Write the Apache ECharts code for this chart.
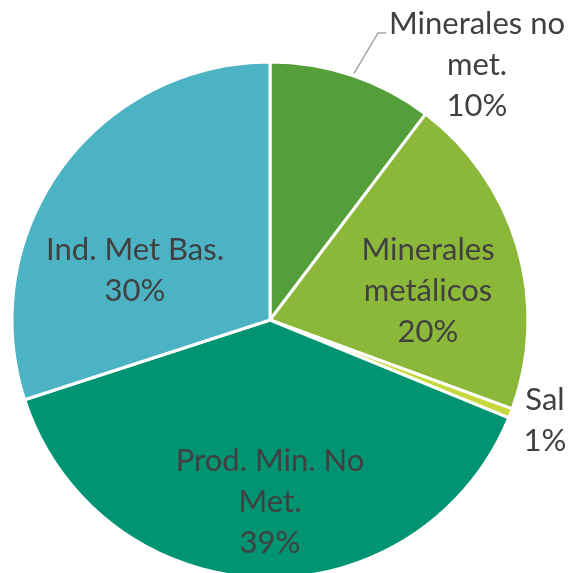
<!DOCTYPE html>
<html>
<head>
<meta charset="utf-8">
<style>
  html, body { margin: 0; padding: 0; background: #fff; }
  #chart { width: 573px; height: 573px; }
</style>
<script src="https://cdn.jsdelivr.net/npm/echarts@6/dist/echarts.min.js"></script>
</head>
<body>
<div id="chart"></div>
<script>
// categorias y valores (%), en el orden de la tarta (sentido horario desde arriba)
var categories = ['Minerales no met.', 'Minerales metálicos', 'Sal', 'Prod. Min. No Met.', 'Ind. Met Bas.']
var labelNames = ['Minerales no\nmet.', 'Minerales\nmetálicos', 'Sal', 'Prod. Min. No\nMet.', 'Ind. Met Bas.']
var values = [10.3, 20.3, 0.6, 38.8, 30.0]
var colors = ['#559f3b', '#8cb83a', '#c6d93c', '#009473', '#4bb3c3']

// centros de las etiquetas
var labelPos = [[477, 65], [428, 291], [545, 420], [270, 502], [135, 270]]

let myChart = echarts.init(document.getElementById('chart'))

var data = categories.map(function (c, i) {
  var item = { name: c, value: values[i], itemStyle: { color: colors[i] } }
  if (i === 0) {
    item.label = { position: 'outside' }
    item.labelLine = { show: true, length: 20, length2: 10, lineStyle: { color: '#a6a6a6', width: 1.5 } }
  } else if (i === 2) {
    item.label = { position: 'outside' }
    item.labelLine = { show: false }
  } else {
    item.label = { position: 'inside' }
    item.labelLine = { show: false }
  }
  return item
})

myChart.setOption({
  animation: false,
  series: [
    {
      type: 'pie',
      center: [270, 320],
      radius: 258,
      startAngle: 90,
      clockwise: true,
      avoidLabelOverlap: false,
      itemStyle: { borderColor: '#fff', borderWidth: 3 },
      label: {
        color: '#404040',
        fontSize: 31,
        lineHeight: 41,
        fontFamily: 'Lato',
        align: 'center',
        formatter: function (p) {
          return labelNames[p.dataIndex] + '\n' + Math.round(p.value) + '%'
        }
      },
      labelLayout: function (p) {
        var pos = labelPos[p.dataIndex]
        var res = { x: pos[0], y: pos[1], align: 'center', verticalAlign: 'middle' }
        if (p.dataIndex === 0 && p.labelLinePoints) {
          // la guia llega a la primera linea del texto
          var start = p.labelLinePoints[0]
          var ly = pos[1] - 32
          res.labelLinePoints = [[start[0] + 2, start[1] - 2], [pos[0] - 99, ly], [pos[0] - 91, ly]]
        }
        return res
      },
      data: data
    }
  ]
})
</script>
</body>
</html>
